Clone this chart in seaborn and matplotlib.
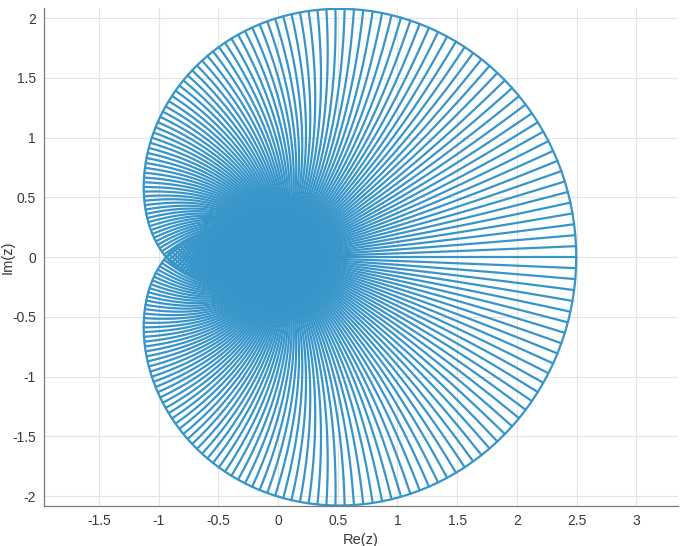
import numpy as np
import pandas as pd
import matplotlib
matplotlib.use("Agg")
import matplotlib.pyplot as plt
import seaborn as sns

# polynomial map z = sum(c_k * w**k), k = 1..5, fitted to the outline in the picture
coef = [1.3374, 1.0207, 0.1004, 0.0562, -0.0188]
n_spokes = 260
n_steps = 80

x_ticks = [-1.5, -1, -0.5, 0, 0.5, 1, 1.5, 2, 2.5, 3]
y_ticks = [-2, -1.5, -1, -0.5, 0, 0.5, 1, 1.5, 2]
x_lim = (-1.958, 3.347)
y_lim = (-2.084, 2.084)
x_label = "Re(z)"
y_label = "Im(z)"

line_col = "#3795CA"


def f(w):
    return sum(c * w ** (k + 1) for k, c in enumerate(coef))


# images of the radii of the unit disc
r = np.linspace(0, 1, n_steps)
rows = []
for k in range(n_spokes):
    z = f(r * np.exp(2j * np.pi * k / n_spokes))
    rows.append(pd.DataFrame({"re": z.real, "im": z.imag, "spoke": k}))
df = pd.concat(rows, ignore_index=True)

# image of the unit circle
t = np.linspace(0, 2 * np.pi, 1200)
zb = f(np.exp(1j * t))
edge = pd.DataFrame({"re": zb.real, "im": zb.imag})

sns.set_theme(style="white")
plt.rcParams["font.family"] = ["Liberation Sans", "DejaVu Sans"]
plt.rcParams["axes.unicode_minus"] = False

fig = plt.figure(figsize=(6.85, 5.46), dpi=100)
ax = fig.add_axes([0.064, 0.073, 0.926, 0.912])

sns.lineplot(data=df, x="re", y="im", units="spoke", estimator=None, sort=False,
             color=line_col, lw=1.6, ax=ax)
sns.lineplot(data=edge, x="re", y="im", estimator=None, sort=False,
             color=line_col, lw=1.6, ax=ax)

ax.set_xlim(*x_lim)
ax.set_ylim(*y_lim)
ax.set_aspect("equal")
ax.set_xticks(x_ticks)
ax.set_yticks(y_ticks)
ax.set_xticklabels([f"{v:g}" for v in x_ticks])
ax.set_yticklabels([f"{v:g}" for v in y_ticks])
ax.grid(True, color="#e4e4e4", lw=0.8)
ax.set_axisbelow(True)

for s in ["top", "right"]:
    ax.spines[s].set_visible(False)
for s in ["left", "bottom"]:
    ax.spines[s].set_color("#7a7a7a")
    ax.spines[s].set_linewidth(0.9)
ax.tick_params(direction="in", length=4, width=0.8, color="#7a7a7a",
               labelsize=10, labelcolor="#3a3a3a", pad=6)

ax.set_xlabel(x_label, fontsize=10.5, color="#3a3a3a", labelpad=3)
ax.set_ylabel(y_label, fontsize=10.5, color="#3a3a3a")
ax.yaxis.set_label_coords(-0.046, 0.5)

fig.savefig("out.png")
plt.close(fig)
